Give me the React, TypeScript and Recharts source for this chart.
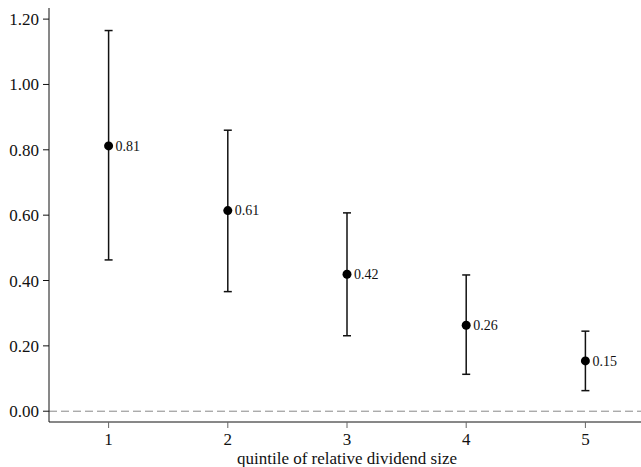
import {
  ComposedChart,
  Scatter,
  ErrorBar,
  XAxis,
  YAxis,
  ReferenceLine,
} from "recharts";

const quintiles = [1, 2, 3, 4, 5];
const means = [0.812, 0.614, 0.419, 0.263, 0.154];
const lows = [0.463, 0.366, 0.231, 0.113, 0.063];
const highs = [1.165, 0.86, 0.607, 0.417, 0.245];
const pointLabels = ["0.81", "0.61", "0.42", "0.26", "0.15"];
const yTicks = [0, 0.2, 0.4, 0.6, 0.8, 1.0, 1.2];

const data = quintiles.map((q, i) => ({
  q,
  mean: means[i],
  err: [means[i] - lows[i], highs[i] - means[i]],
  label: pointLabels[i],
}));

const FONT = "'Liberation Serif', 'Times New Roman', serif";

const Dot = (props: any) => {
  const { cx, cy, payload } = props;
  return (
    <g>
      <circle cx={cx} cy={cy} r={4.5} fill="#000" />
      <text
        x={cx + 7}
        y={cy}
        dy="0.35em"
        fontSize={14}
        fontFamily={FONT}
        fill="#111"
      >
        {payload.label}
      </text>
    </g>
  );
};

export default function App() {
  return (
    <div style={{ position: "absolute", left: 0, top: 0, width: 641, height: 467, overflow: "hidden" }}>
      <ComposedChart
        width={650}
        height={467}
        data={data}
        margin={{ top: 8, right: 5, bottom: 0, left: 0 }}
      >
        <XAxis
          dataKey="q"
          type="number"
          domain={[0.5, 5.5]}
          ticks={quintiles}
          allowDataOverflow
          height={45}
          tickSize={6}
          tickMargin={5}
          stroke="#111"
          tick={{ fill: "#111", fontSize: 17, fontFamily: FONT }}
          tickLine={{ stroke: "#666" }}
          label={{
            value: "quintile of relative dividend size",
            position: "insideBottom",
            offset: 3,
            fill: "#111",
            fontSize: 17,
            fontFamily: FONT,
          }}
        />
        <YAxis
          type="number"
          domain={[-0.033, 1.234]}
          ticks={yTicks}
          allowDataOverflow
          width={49}
          tickSize={6}
          tickMargin={4}
          stroke="#111"
          tickFormatter={(v: number) => v.toFixed(2)}
          tick={{ fill: "#111", fontSize: 17, fontFamily: FONT }}
        />
        <ReferenceLine y={0} stroke="#888" strokeDasharray="8 4" />
        <Scatter
          dataKey="mean"
          shape={<Dot />}
          isAnimationActive={false}
        >
          <ErrorBar
            dataKey="err"
            direction="y"
            width={4}
            stroke="#111"
            strokeWidth={1.5}
            isAnimationActive={false}
          />
        </Scatter>
      </ComposedChart>
    </div>
  );
}
